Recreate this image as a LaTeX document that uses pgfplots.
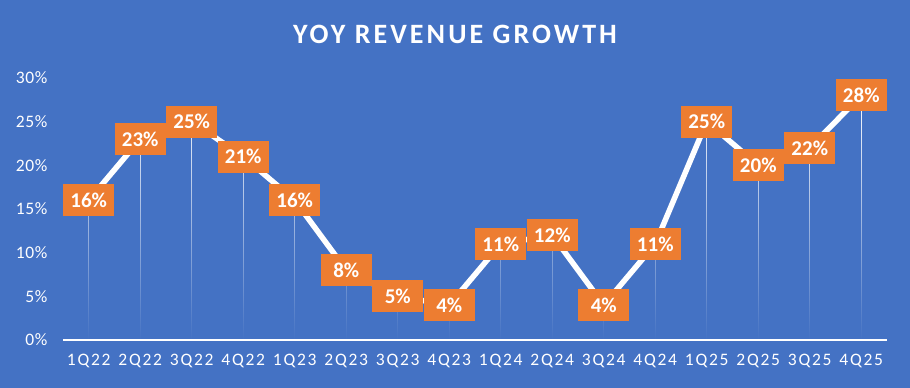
\documentclass[border=0pt]{standalone}
\usepackage{pgfplots}
\usepackage{pgfplotstable}
\pgfplotsset{compat=1.18}
\usetikzlibrary{fadings}
\usepackage{fontspec}
\setmainfont{Carlito}
\definecolor{bg}{HTML}{4472C4}
\definecolor{lbl}{HTML}{ED7D31}
\pgfplotstableread{
x y
0 16
1 23
2 25
3 21
4 16
5 8
6 5
7 4
8 11
9 12
10 4
11 11
12 25
13 20
14 22
15 28
}\datatable
\begin{document}
\begin{tikzpicture}
\fill[bg] (0pt,0pt) rectangle (910pt,388pt);
\node[font=\bfseries\addfontfeature{LetterSpace=11}\fontsize{28}{32}\selectfont, text=white, anchor=base] at (455pt,344pt) {YOY REVENUE GROWTH};
\begin{axis}[
  at={(63pt,48pt)}, anchor=south west,
  scale only axis, width=824pt, height=262pt,
  xmin=-0.5, xmax=15.5, ymin=0, ymax=30,
  clip=false,
  axis x line*=bottom, axis y line*=left,
  y axis line style={draw=none},
  x axis line style={white, line width=1.5pt, -},
  major tick length=0pt,
  xtick=data,
  xticklabels={1Q22,2Q22,3Q22,4Q22,1Q23,2Q23,3Q23,4Q23,1Q24,2Q24,3Q24,4Q24,1Q25,2Q25,3Q25,4Q25},
  ytick={0,5,10,15,20,25,30},
  yticklabel={\pgfmathprintnumber{\tick}\%},
  /pgf/number format/assume math mode=true,
  x tick label style={text=white, font=\addfontfeature{LetterSpace=10}\fontsize{17.5}{20}\selectfont, yshift=-11pt},
  y tick label style={text=white, font=\addfontfeature{LetterSpace=4}\fontsize{17.5}{20}\selectfont, xshift=-12pt},
]
\addplot[ycomb, white, line width=1.3pt, no marks, path fading=south] table[x=x,y=y] {\datatable};
\addplot[white, line width=5.5pt, no marks, line join=round] table[x=x,y=y] {\datatable};
\addplot[only marks, mark=none, point meta=y,
  nodes near coords={\pgfmathprintnumber{\pgfplotspointmeta}\%},
  nodes near coords align={center},
  every node near coord/.style={fill=lbl, text=white, font=\bfseries\fontsize{21}{24}\selectfont, minimum width=51pt, minimum height=32pt, inner sep=0pt, anchor=center}
] table[x=x,y=y] {\datatable};
\end{axis}
\end{tikzpicture}
\end{document}
